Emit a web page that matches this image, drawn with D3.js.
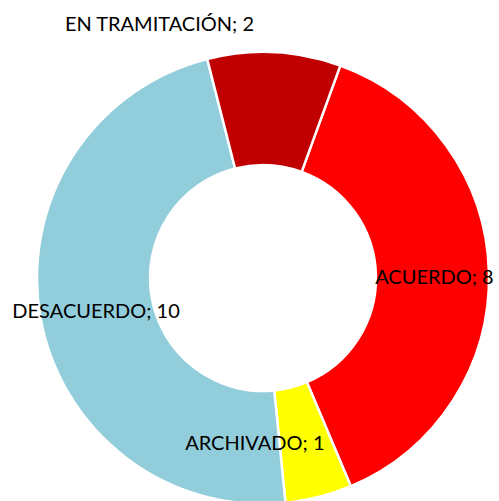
<!DOCTYPE html>
<html>
<head>
<meta charset="utf-8">
<script src="https://cdn.jsdelivr.net/npm/d3@7"></script>
<style>
  body { margin: 0; background: #fff; }
  svg { display: block; }
</style>
</head>
<body>
<script>
// chart data
var categories = ["ACUERDO", "ARCHIVADO", "DESACUERDO", "EN TRAMITACIÓN"];
var values = [8, 1, 10, 2];
var colors = ["#FF0000", "#FFFF00", "#92CDDC", "#C00000"];

// labels were dragged around in the original, so nudge them from the centroid
var labelShift = [[2, 3], [-50, 1], [0, 3], [-112, -85]];

var width = 499, height = 501;
var cx = 263, cy = 278;
var outerR = 226, innerR = 113;

var svg = d3.select("body").append("svg")
    .attr("width", width)
    .attr("height", height);

var g = svg.append("g")
    .attr("transform", "translate(" + cx + "," + cy + ")");

var startAngle = 20 * Math.PI / 180;

var pie = d3.pie()
    .sort(null)
    .startAngle(startAngle)
    .endAngle(startAngle + 2 * Math.PI);

var arc = d3.arc()
    .innerRadius(innerR)
    .outerRadius(outerR);

var arcs = pie(values);

g.selectAll("path")
    .data(arcs)
    .enter().append("path")
    .attr("d", arc)
    .attr("fill", function(d, i) { return colors[i]; })
    .attr("stroke", "#fff")
    .attr("stroke-width", 2.5)
    .attr("stroke-linejoin", "round");

g.selectAll("text")
    .data(arcs)
    .enter().append("text")
    .attr("x", function(d, i) { return arc.centroid(d)[0] + labelShift[i][0]; })
    .attr("y", function(d, i) { return arc.centroid(d)[1] + labelShift[i][1]; })
    .attr("dy", "0.36em")
    .attr("text-anchor", "middle")
    .style("font-family", "Lato, 'Open Sans', sans-serif")
    .style("font-size", "20px")
    .style("fill", "#000")
    .text(function(d, i) { return categories[i] + "; " + values[i]; });
</script>
</body>
</html>
